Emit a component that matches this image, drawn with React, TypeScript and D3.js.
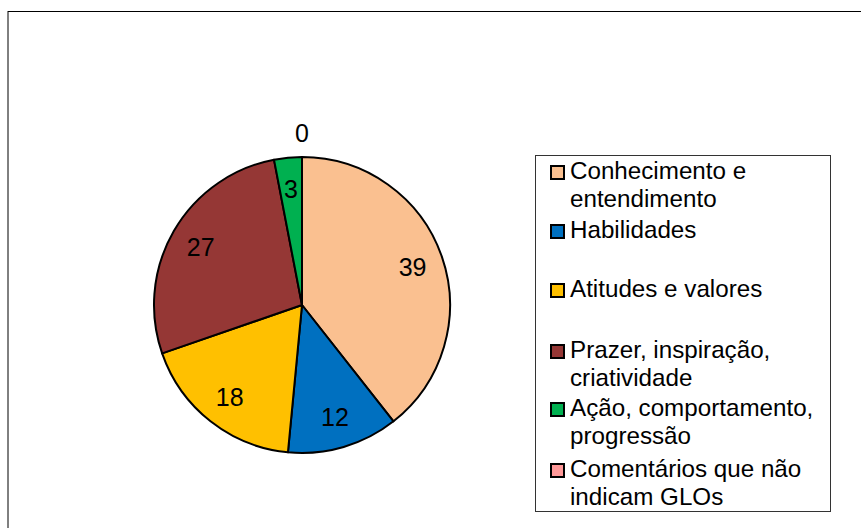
import React from "react";
import * as d3 from "d3";

const categories = [
  "Conhecimento e entendimento",
  "Habilidades",
  "Atitudes e valores",
  "Prazer, inspiração, criatividade",
  "Ação, comportamento, progressão",
  "Comentários que não indicam GLOs",
];
const legendLines = [
  ["Conhecimento e", "entendimento"],
  ["Habilidades"],
  ["Atitudes e valores"],
  ["Prazer, inspiração,", "criatividade"],
  ["Ação, comportamento,", "progressão"],
  ["Comentários que não", "indicam GLOs"],
];
const values = [39, 12, 18, 27, 3, 0];
const colors = ["#FAC090", "#0070C0", "#FFC000", "#953735", "#00B050", "#FF9999"];
const legendBaselines = [179, 238, 297, 358, 416, 477];

const W = 861;
const H = 528;
const cx = 302;
const cy = 305;
const R = 148;
const FONT = "'Liberation Sans', Arial, sans-serif";

export default function App() {
  const pie = d3.pie<number>().sort(null).value((d) => d)(values);
  const arc = d3.arc<d3.PieArcDatum<number>>().innerRadius(0).outerRadius(R);
  const labelArc = d3.arc<d3.PieArcDatum<number>>().innerRadius(117).outerRadius(117);
  const outerArc = d3.arc<d3.PieArcDatum<number>>().innerRadius(R + 24).outerRadius(R + 24);

  return (
    <svg
      width={W}
      height={H}
      style={{ position: "absolute", left: 0, top: 0 }}
      fontFamily={FONT}
    >
      <rect x={0} y={0} width={W} height={H} fill="#fff" />
      <line x1={8} y1={11} x2={8} y2={H + 5} stroke="#000" strokeWidth={1} />
      <line x1={8} y1={11.5} x2={W + 5} y2={11.5} stroke="#000" strokeWidth={1} />
      <g transform={`translate(${cx},${cy})`}>
        {pie.map((p, i) => (
          <path key={i} d={arc(p) || ""} fill={colors[i]} stroke="#000" strokeWidth={2} strokeLinejoin="round" />
        ))}
        {pie.map((p, i) => {
          const [x, y] = p.value === 0 ? outerArc.centroid(p) : labelArc.centroid(p);
          return (
            <text key={i} x={x} y={y} fontSize={25} textAnchor="middle" dominantBaseline="central" fill="#000">
              {values[i]}
            </text>
          );
        })}
      </g>
      <rect x={535.5} y={155.5} width={295} height={356} fill="#fff" stroke="#333" strokeWidth={1} />
      {legendLines.map((lines, i) => (
        <g key={i}>
          <rect
            x={551}
            y={legendBaselines[i] - 13}
            width={13}
            height={13}
            fill={colors[i]}
            stroke="#000"
            strokeWidth={2}
          />
          {lines.map((t, j) => (
            <text key={j} x={570} y={legendBaselines[i] + j * 28} fontSize={24.2} fill="#000">
              {t}
            </text>
          ))}
        </g>
      ))}
    </svg>
  );
}
